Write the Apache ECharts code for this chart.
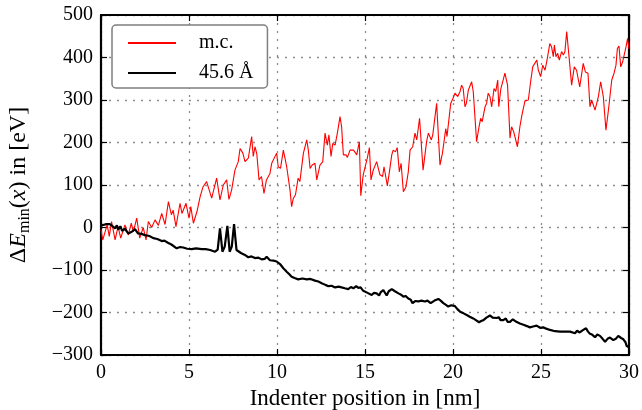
<!DOCTYPE html>
<html><head><meta charset="utf-8">
<script src="https://cdn.jsdelivr.net/npm/echarts@6/dist/echarts.min.js"></script>
<style>html,body{margin:0;padding:0;background:#fff}#c{width:642px;height:410px}</style>
</head><body><div id="c"></div>
<script>
const redX = [0,0.1,0.35,0.47,0.6,0.8,0.97,1.12,1.36,1.55,1.72,1.84,2.03,2.2,2.4,2.56,2.69,2.88,3.07,3.26,3.45,3.64,3.83,4.0,4.1,4.26,4.49,4.6,4.83,5.0,5.1,5.25,5.45,5.63,5.8,6.0,6.1,6.29,6.57,6.76,6.95,7.14,7.27,7.42,7.61,7.8,7.9,8.06,8.18,8.37,8.56,8.65,8.75,8.85,8.98,9.12,9.26,9.4,9.6,9.7,9.78,9.98,10.07,10.2,10.36,10.55,10.74,10.83,10.93,11.05,11.2,11.3,11.5,11.6,11.69,11.78,11.88,12.0,12.16,12.26,12.44,12.6,12.73,12.86,12.95,13.07,13.17,13.3,13.43,13.58,13.67,13.77,13.92,14.0,14.15,14.25,14.35,14.43,14.53,14.68,14.76,14.9,15.0,15.13,15.25,15.34,15.47,15.66,15.85,16.0,16.08,16.27,16.4,16.52,16.6,16.73,16.83,16.95,17.05,17.18,17.33,17.46,17.56,17.71,17.84,17.94,18.1,18.3,18.5,18.6,18.77,18.85,19.07,19.26,19.4,19.59,19.66,19.87,20.0,20.11,20.27,20.4,20.49,20.58,20.68,20.76,20.87,20.95,21.06,21.15,21.34,21.48,21.57,21.66,21.82,21.91,22.0,22.1,22.2,22.33,22.43,22.54,22.6,22.72,22.8,22.95,23.1,23.24,23.33,23.45,23.55,23.66,23.8,23.9,23.96,24.09,24.28,24.41,24.53,24.62,24.76,24.85,24.98,25.1,25.23,25.36,25.5,25.6,25.7,25.76,25.85,25.95,26.04,26.17,26.27,26.36,26.46,26.61,26.74,26.89,27.02,27.1,27.2,27.4,27.52,27.67,27.78,27.88,28.07,28.26,28.39,28.54,28.69,28.83,29.02,29.15,29.26,29.34,29.43,29.53,29.64,29.73,29.83,29.92,30.0];
const redY = [-5,-29,6,-21,14,-29,2,-25,6,-18,10,-10,22,-25,0,-29,14,0,18,5,33,7,61,30,41,2,57,33,57,22,49,10,37,72,96,108,104,69,116,65,100,112,66,88,135,155,186,175,155,163,214,167,190,174,112,120,80,112,127,151,147,175,143,139,182,143,88,49,69,77,116,108,175,175,206,182,139,147,151,112,147,155,222,194,218,167,198,194,222,261,237,171,171,165,182,186,182,186,171,202,75,124,120,163,188,112,135,155,124,120,143,98,135,171,182,178,188,131,151,84,96,131,182,190,222,206,257,135,202,222,206,218,292,147,175,233,214,292,304,316,308,320,335,327,284,292,323,327,343,320,202,237,257,249,284,292,316,308,284,327,320,347,284,327,339,363,335,210,237,225,225,190,237,261,273,298,300,343,378,374,394,370,355,382,370,398,433,425,402,429,402,410,394,414,406,414,461,394,335,378,370,374,331,386,366,363,284,300,276,308,343,308,229,276,347,363,382,421,427,378,390,394,425,445,420];
const blackX = [0,0.13,0.3,0.5,0.65,0.8,0.9,0.98,1.1,1.2,1.35,1.55,1.75,1.93,2.1,2.3,2.5,2.75,2.97,3.2,3.45,3.6,3.8,4.0,4.3,4.5,4.67,4.9,5.15,5.4,5.72,5.95,6.2,6.48,6.63,6.76,6.9,7.03,7.18,7.31,7.43,7.56,7.7,7.95,8.15,8.37,8.55,8.75,8.95,9.13,9.3,9.41,9.6,9.8,9.98,10.17,10.36,10.45,10.55,10.7,10.83,11.0,11.2,11.45,11.69,11.9,12.16,12.35,12.54,12.75,12.92,13.1,13.3,13.5,13.67,13.85,14.05,14.2,14.34,14.5,14.62,14.75,14.9,15.0,15.2,15.38,15.5,15.66,15.8,15.9,16.04,16.23,16.35,16.52,16.7,16.9,17.05,17.18,17.3,17.46,17.6,17.7,17.85,18.03,18.2,18.41,18.55,18.73,18.95,19.17,19.3,19.45,19.6,19.73,19.9,20.11,20.25,20.4,20.6,20.78,20.95,21.15,21.3,21.48,21.6,21.73,21.9,22.1,22.25,22.48,22.6,22.7,22.86,23.0,23.1,23.24,23.4,23.6,23.8,24.0,24.2,24.37,24.55,24.75,24.95,25.13,25.3,25.51,25.8,26.08,26.35,26.65,26.93,27.05,27.2,27.4,27.56,27.67,27.78,27.9,28.07,28.2,28.35,28.5,28.64,28.78,28.92,29.11,29.25,29.39,29.55,29.68,29.8,29.87,30.0];
const blackY = [5,6,8,8,3,-2,5,-5,3,-8,-3,-14,-10,-4,-14,-15,-18,-20,-25,-27,-32,-31,-36,-40,-49,-46,-47,-50,-51,-49,-51,-51,-53,-57,-52,-2,-57,-45,4,-57,-45,8,-53,-60,-64,-70,-68,-72,-71,-75,-74,-69,-77,-78,-80,-86,-96,-94,-104,-110,-116,-119,-122,-120,-122,-121,-125,-127,-131,-135,-138,-137,-141,-139,-141,-143,-145,-140,-143,-138,-142,-141,-149,-146,-155,-159,-154,-155,-160,-152,-147,-160,-150,-145,-150,-155,-158,-163,-161,-167,-170,-178,-173,-174,-172,-174,-172,-178,-172,-168,-172,-178,-182,-186,-183,-185,-192,-198,-202,-206,-210,-214,-218,-223,-220,-218,-212,-207,-212,-213,-211,-218,-218,-214,-222,-222,-216,-222,-226,-229,-232,-235,-233,-231,-236,-235,-238,-241,-244,-245,-245,-245,-249,-243,-247,-241,-237,-245,-250,-252,-258,-252,-255,-262,-269,-262,-259,-265,-262,-255,-260,-263,-270,-279,-282];
const seriesNames = ['m.c.', '45.6 Å'];
const xTicks = [0, 5, 10, 15, 20, 25, 30];
const yTicks = [-300, -200, -100, 0, 100, 200, 300, 400, 500];

const FONT = 'Liberation Serif';
const chart = echarts.init(document.getElementById('c'), null, {renderer: 'canvas'});
const zip = (xs, ys) => xs.map((x, i) => [x, ys[i]]);
const gridLine = {show: true, lineStyle: {color: '#8c8c8c', type: [2, 6], width: 1.3}};
const minusFmt = v => String(v).replace('-', '\u2212');
const baseX = {type: 'value', min: xTicks[0], max: xTicks[xTicks.length-1], interval: 5};
const baseY = {type: 'value', min: yTicks[0], max: yTicks[yTicks.length-1], interval: 100};
const frameLine = {show: true, onZero: false, lineStyle: {color: '#000', width: 2.2}};
const frameTick = {show: true, inside: true, length: 6, lineStyle: {color: '#000', width: 1.2}};
chart.setOption({
  animation: false,
  backgroundColor: '#fff',
  grid: {left: 101, right: 13, top: 15, bottom: 55, containLabel: false, outerBoundsMode: 'none'},
  legend: {
    orient: 'vertical', left: 112, top: 25,
    padding: [8, 14, 5, 15],
    itemWidth: 48, itemHeight: 14, itemGap: 10,
    borderColor: '#7f7f7f', borderWidth: 1.5, borderRadius: 4,
    backgroundColor: '#fff',
    itemStyle: {color: 'rgba(0,0,0,0)', borderColor: 'rgba(0,0,0,0)', borderWidth: 0, opacity: 0},
    textStyle: {fontFamily: FONT, fontSize: 20, color: '#000', padding: [0, 0, 0, 18]},
    data: seriesNames
  },
  xAxis: [
    Object.assign({}, baseX, {
      position: 'bottom',
      name: 'Indenter position in [nm]', nameLocation: 'middle', nameGap: 30,
      nameTextStyle: {fontFamily: FONT, fontSize: 23, color: '#000'},
      axisLine: frameLine, axisTick: frameTick,
      axisLabel: {fontFamily: FONT, fontSize: 20, color: '#000', margin: 8},
      splitLine: gridLine
    }),
    Object.assign({}, baseX, {
      position: 'top', axisLine: frameLine, axisTick: frameTick,
      axisLabel: {show: false}, splitLine: {show: false}
    })
  ],
  yAxis: [
    Object.assign({}, baseY, {
      position: 'left',
      name: '{n|\u0394}{i|E}{s|min}{n|(}{i|x}{n|) in [eV]}',
      nameLocation: 'middle', nameGap: 68, nameRotate: 90,
      nameTextStyle: {
        fontFamily: FONT, fontSize: 24, color: '#000',
        rich: {
          n: {fontFamily: FONT, fontSize: 24, color: '#000', lineHeight: 28, verticalAlign: 'middle'},
          i: {fontFamily: FONT, fontSize: 24, color: '#000', fontStyle: 'italic', lineHeight: 28, verticalAlign: 'middle'},
          s: {fontFamily: FONT, fontSize: 16, color: '#000', lineHeight: 16, verticalAlign: 'bottom'}
        }
      },
      axisLine: frameLine, axisTick: frameTick,
      axisLabel: {fontFamily: FONT, fontSize: 20, color: '#000', margin: 8, formatter: minusFmt},
      splitLine: gridLine
    }),
    Object.assign({}, baseY, {
      position: 'right', axisLine: frameLine, axisTick: frameTick,
      axisLabel: {show: false}, splitLine: {show: false}
    })
  ],
  series: [
    {name: seriesNames[0], type: 'line', data: zip(redX, redY), symbol: 'none',
     lineStyle: {color: '#ff0000', width: 1.1}, itemStyle: {color: '#ff0000'}, z: 3},
    {name: seriesNames[1], type: 'line', data: zip(blackX, blackY), symbol: 'none',
     lineStyle: {color: '#000', width: 2.2}, itemStyle: {color: '#000'}, z: 4}
  ]
});
</script></body></html>
